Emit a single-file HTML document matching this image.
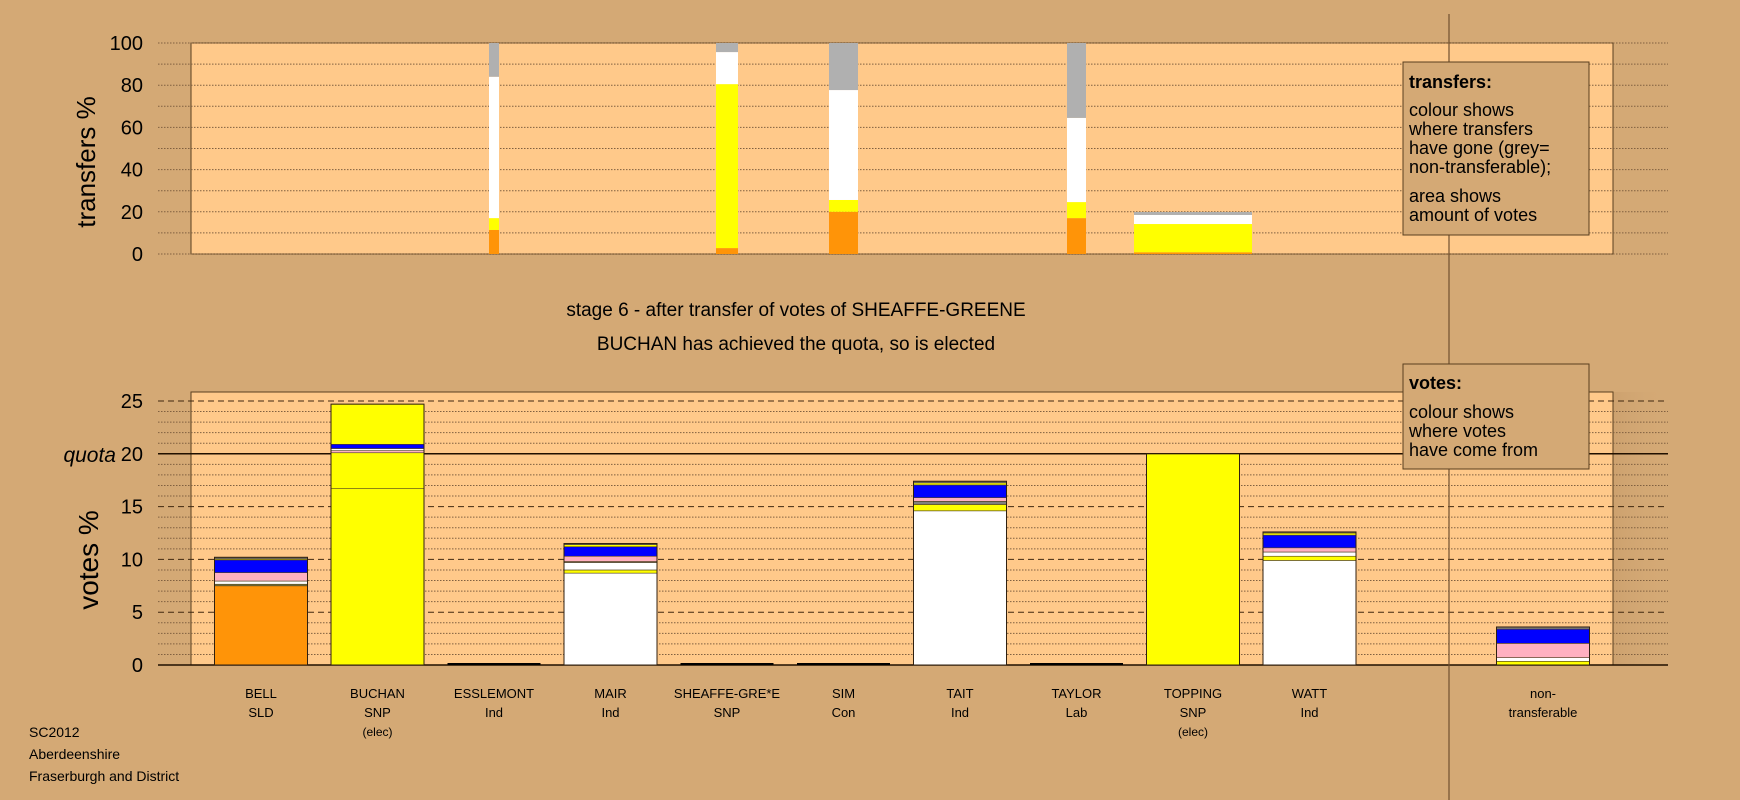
<!DOCTYPE html>
<html><head><meta charset="utf-8"><style>
body{margin:0;background:#d4a975;}
svg{display:block;font-family:"Liberation Sans",sans-serif;}
</style></head><body>
<svg id="c" width="1740" height="800" viewBox="0 0 1740 800" xmlns="http://www.w3.org/2000/svg">
<defs><linearGradient id="shade" x1="0" x2="1"><stop offset="0" stop-color="#c89c6a" stop-opacity="0.6"/><stop offset="1" stop-color="#d4a975" stop-opacity="0"/></linearGradient></defs>
<rect width="1740" height="800" fill="#d4a975"/>
</svg>
<script>
const candidates=["BELL","BUCHAN","ESSLEMONT","MAIR","SHEAFFE-GRE*E","SIM","TAIT","TAYLOR","TOPPING","WATT","non-"];
const parties=["SLD","SNP","Ind","Ind","SNP","Con","Ind","Lab","SNP","Ind","transferable"];
const notes=["","(elec)","","","","","","","(elec)","",""];
const topTicks=[0,20,40,60,80,100];
const botTicks=[0,5,10,15,20,25];
const quota=20;
// transfers: index of column, width share, segments [colour,value]
const trCols=[2,4,5,7,8];
const trShare=[10,22,29,19,118];
const trSegs=[
 [["#ff9408",11.4],["#ffff00",5.6],["#ffffff",67],["#b0b0b0",16]],
 [["#ff9408",2.8],["#ffff00",77.7],["#ffffff",15.2],["#b0b0b0",4.3]],
 [["#ff9408",20],["#ffff00",5.6],["#ffffff",52.1],["#b0b0b0",22.3]],
 [["#ff9408",17],["#ffff00",7.6],["#ffffff",39.9],["#b0b0b0",35.5]],
 [["#ff9408",0.8],["#ffff00",13.4],["#ffffff",4.3],["#b0b0b0",1.4]]
];
const voteSegs=[
 [["#ff9408",7.5],["#808040",0.15],["#ffffff",0.3],["#ffb0c0",0.8],["#0000ff",1.2],["#ffff00",0.1],["#808080",0.15]],
 [["#ffff00",16.7],["#ffff00",3.4],["#ffb0c0",0.2],["#ffffff",0.2],["#0000ff",0.4],["#ffff00",3.8]],
 [],
 [["#ffffff",8.7],["#ffff00",0.3],["#ffffff",0.7],["#808080",0.1],["#ffb0c0",0.5],["#0000ff",0.9],["#ffff00",0.2],["#808080",0.1]],
 [],[],
 [["#ffffff",14.6],["#ffff00",0.6],["#808080",0.3],["#ffb0c0",0.35],["#0000ff",1.2],["#ffff00",0.2],["#808080",0.15]],
 [],
 [["#ffff00",20.0]],
 [["#ffffff",9.9],["#ffff00",0.4],["#ffffff",0.4],["#ffb0c0",0.4],["#0000ff",1.2],["#ffff00",0.2],["#808080",0.1]],
 [["#ffff00",0.35],["#ffffff",0.35],["#ffb0c0",1.35],["#0000ff",1.35],["#808080",0.2]]
];
const svg=document.getElementById('c');
const NS="http://www.w3.org/2000/svg";
function el(t,a,p){const e=document.createElementNS(NS,t);for(const k in a)e.setAttribute(k,a[k]);(p||svg).appendChild(e);return e;}
function txt(s,a,name){const e=el('text',a);e.textContent=s;return e;}
const colX=i=>i<10?261+i*116.5:1543;
const L=191,R=1613,GL=158,GR=1668;
const tyT=v=>254-v*2.11;
const tyB=v=>665-v*10.56;
// right shade
let sh=el('rect',{x:R,y:392,width:55,height:273,fill:'url(#shade)'});


// top frame
let f=el('rect',{x:L,y:43,width:R-L,height:211,fill:'#ffc98a',stroke:'#5a4020','stroke-width':1});


for(let v=0;v<=100;v+=10){let g=el('line',{x1:GL,x2:GR,y1:tyT(v),y2:tyT(v),stroke:'#806040','stroke-width':1,'stroke-dasharray':'1.5,1.5'});

}
topTicks.forEach(v=>txt(String(v),{x:143,y:tyT(v)+7,'font-size':20,'text-anchor':'end'},'transfers-tick-label'));
txt('transfers %',{x:0,y:0,'font-size':26,'text-anchor':'middle',transform:'translate(95,162) rotate(-90)'},'transfers-axis-title');
trCols.forEach((c,i)=>{const w=trShare[i];let y0=0;const x=colX(c)-w/2;
 trSegs[i].forEach(s=>{let r=el('rect',{x:x,y:tyT(y0+s[1]),width:w,height:s[1]*2.11,fill:s[0]});
 
 y0+=s[1];});});
// titles
txt('stage 6 - after transfer of votes of SHEAFFE-GREENE',{x:796,y:316,'font-size':19,'text-anchor':'middle'},'stage-title');
txt('BUCHAN has achieved the quota, so is elected',{x:796,y:350,'font-size':19,'text-anchor':'middle'},'stage-subtitle');
// bottom frame
f=el('rect',{x:L,y:392,width:R-L,height:273,fill:'#ffc98a',stroke:'#5a4020','stroke-width':1});


for(let v=1;v<=25;v++){if(v%5==0)continue;let g=el('line',{x1:GL,x2:GR,y1:tyB(v),y2:tyB(v),stroke:'#806040','stroke-width':1,'stroke-dasharray':'1.5,1.5'});

}
[5,10,15,25].forEach(v=>{let g=el('line',{x1:GL,x2:GR,y1:tyB(v),y2:tyB(v),stroke:'#402810','stroke-width':1,'stroke-dasharray':'6,4'});

});
let q=el('line',{x1:GL,x2:GR,y1:tyB(quota),y2:tyB(quota),stroke:'#201000','stroke-width':1.5});


let b=el('line',{x1:GL,x2:GR,y1:665,y2:665,stroke:'#201000','stroke-width':1.5});


botTicks.forEach(v=>txt(String(v),{x:143,y:tyB(v)+7,'font-size':20,'text-anchor':'end'},'votes-tick-label'));
txt('quota',{x:116,y:tyB(20)+8,'font-size':21,'font-style':'italic','text-anchor':'end'},'quota-label');
txt('votes %',{x:0,y:0,'font-size':28,'text-anchor':'middle',transform:'translate(98,560) rotate(-90)'},'votes-axis-title');
voteSegs.forEach((segs,i)=>{const x=colX(i)-46.5;let y0=0;
 if(!segs.length){let z=el('line',{x1:x,x2:x+93,y1:664,y2:664,stroke:'#000','stroke-width':2});
 
 return;}
 segs.forEach(s=>{let r=el('rect',{x:x,y:tyB(y0+s[1]),width:93,height:s[1]*10.56,fill:s[0],stroke:'#504020','stroke-width':0.6});
 
 y0+=s[1];});
 let o=el('rect',{x:x,y:tyB(y0),width:93,height:y0*10.56,fill:'none',stroke:'#302010','stroke-width':1});
 
 });
candidates.forEach((c,i)=>{const x=colX(i);
 txt(c,{x:x,y:698,'font-size':13,'text-anchor':'middle'},'candidate-name');
 txt(parties[i],{x:x,y:717,'font-size':13,'text-anchor':'middle'},'candidate-party');
 if(notes[i])txt(notes[i],{x:x,y:736,'font-size':12,'text-anchor':'middle'},'elected-note');});
// divider
let d=el('line',{x1:1449,x2:1449,y1:14,y2:800,stroke:'#705030','stroke-width':1.2});


// legends
let lb=el('rect',{x:1403,y:62,width:186,height:173,fill:'#d4a975',stroke:'#5a4020','stroke-width':1});


txt('transfers:',{x:1409,y:88,'font-size':18,'font-weight':'bold'},'transfers-legend-title');
['colour shows','where transfers','have gone (grey=','non-transferable);'].forEach((s,i)=>txt(s,{x:1409,y:116+i*19,'font-size':18},'transfers-legend-text'));
['area shows','amount of votes'].forEach((s,i)=>txt(s,{x:1409,y:202+i*19,'font-size':18},'transfers-legend-text'));
lb=el('rect',{x:1403,y:364,width:186,height:105,fill:'#d4a975',stroke:'#5a4020','stroke-width':1});


txt('votes:',{x:1409,y:389,'font-size':18,'font-weight':'bold'},'votes-legend-title');
['colour shows','where votes','have come from'].forEach((s,i)=>txt(s,{x:1409,y:418+i*19,'font-size':18},'votes-legend-text'));
['SC2012','Aberdeenshire','Fraserburgh and District'].forEach((s,i)=>txt(s,{x:29,y:737+i*22,'font-size':14},'footer-text'));
</script>
</body></html>
